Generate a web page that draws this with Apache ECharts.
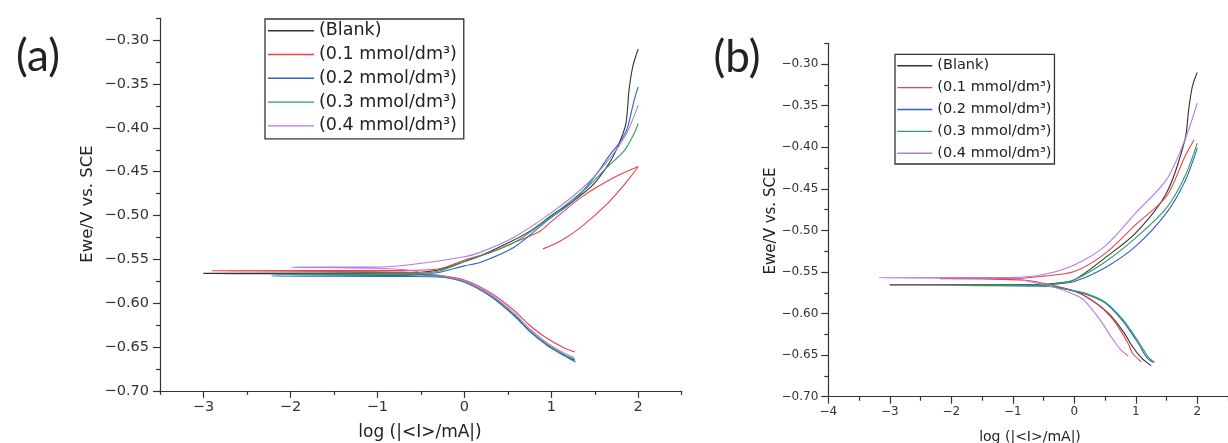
<!DOCTYPE html>
<html>
<head>
<meta charset="utf-8">
<script src="https://cdn.jsdelivr.net/npm/echarts@6/dist/echarts.min.js"></script>
<style>
html,body{margin:0;padding:0;background:#fff;}
#chart{width:1228px;height:443px;}
</style>
</head>
<body>
<div id="chart"></div>
<script>
// ---------- labels / ticks ----------
const seriesNames = ['(Blank)', '(0.1 mmol/dm³)', '(0.2 mmol/dm³)', '(0.3 mmol/dm³)', '(0.4 mmol/dm³)'];
const seriesColors = ['#333333', '#e8424a', '#2d62c8', '#2f9e5e', '#b57be0'];
const xTicksA = [-3, -2, -1, 0, 1, 2];
const xMinorA = [-3.5, -2.5, -1.5, -0.5, 0.5, 1.5, 2.5];
const xTicksB = [-4, -3, -2, -1, 0, 1, 2];
const xMinorB = [-3.5, -2.5, -1.5, -0.5, 0.5, 1.5, 2.5];
const yTicks = [-0.70, -0.65, -0.60, -0.55, -0.50, -0.45, -0.40, -0.35, -0.30];
const yMinor = [-0.675, -0.625, -0.575, -0.525, -0.475, -0.425, -0.375, -0.325, -0.275];
const xTitle = 'log (|<I>/mA|)';
const yTitle = 'Ewe/V vs. SCE';

// ---------- panel (a) data: [log|I|, E] ----------
const blankA = [[1.27,-0.665],[1.15,-0.659],[0.95,-0.647],[0.76,-0.632],[0.57,-0.613],[0.30,-0.591],[0.0,-0.575],[-0.3,-0.569],[-0.6,-0.567],
  [-3.0,-0.566],[-0.6,-0.565],
  [-0.3,-0.562],[0.0,-0.5525],[0.18,-0.546],[0.49,-0.532],[0.76,-0.5175],[1.03,-0.498],[1.26,-0.483],[1.49,-0.464],[1.68,-0.438],[1.76,-0.4225],[1.856,-0.396],[1.895,-0.356],[1.94,-0.329],[2.0,-0.31]];
const c01A = [[1.27,-0.6555],[1.15,-0.651],[0.95,-0.640],[0.76,-0.626],[0.57,-0.608],[0.30,-0.588],[0.0,-0.5735],[-0.3,-0.568],[-0.7,-0.5645],
  [-2.9,-0.563],[-0.7,-0.5625],
  [-0.3,-0.561],[0.0,-0.551],[0.30,-0.542],[0.567,-0.531],[0.875,-0.5175],[1.0,-0.507],[1.34,-0.4795],[1.72,-0.4567],[2.0,-0.444],
  [1.875,-0.4605],[1.64,-0.487],[1.335,-0.5137],[1.106,-0.529],[0.905,-0.538]];
const c02A = [[1.28,-0.667],[1.15,-0.660],[0.95,-0.648],[0.76,-0.633],[0.57,-0.614],[0.30,-0.592],[0.0,-0.576],[-0.3,-0.570],[-0.6,-0.5695],
  [-2.22,-0.569],[-0.6,-0.568],
  [-0.3,-0.565],[0.0,-0.5574],[0.18,-0.5536],[0.567,-0.5365],[0.95,-0.506],[1.26,-0.483],[1.49,-0.4567],[1.68,-0.43],[1.798,-0.415],[1.875,-0.40],[1.952,-0.369],[2.0,-0.3533]];
const c03A = [[1.27,-0.664],[1.15,-0.659],[0.95,-0.647],[0.76,-0.632],[0.57,-0.613],[0.30,-0.591],[0.0,-0.5755],[-0.3,-0.569],[-0.6,-0.5675],
  [-2.19,-0.567],[-0.6,-0.566],
  [-0.3,-0.5635],[0.0,-0.5525],[0.567,-0.531],[1.03,-0.4985],[1.41,-0.468],[1.64,-0.445],[1.84,-0.426],[1.95,-0.407],[2.0,-0.395]];
const c04A = [[1.26,-0.662],[1.15,-0.657],[0.95,-0.645],[0.76,-0.630],[0.57,-0.611],[0.30,-0.590],[0.0,-0.5745],[-0.3,-0.568],[-0.8,-0.561],
  [-1.99,-0.559],[-0.97,-0.5586],
  [-0.586,-0.5555],[0.0,-0.547],[0.18,-0.542],[0.567,-0.525],[1.03,-0.4947],[1.41,-0.464],[1.68,-0.434],[1.84,-0.411],[1.93,-0.392],[2.0,-0.374]];

// ---------- panel (b) data ----------
const blankB = [[1.25,-0.6626],[1.1,-0.654],[0.95,-0.640],[0.8,-0.622],[0.6,-0.603],[0.4,-0.590],[0.2,-0.580],[0.0,-0.573],[-0.3,-0.568],[-0.6,-0.566],
  [-3.0,-0.5655],[-0.6,-0.565],
  [-0.3,-0.5635],[0.0,-0.5595],[0.5,-0.533],[1.0,-0.503],[1.5,-0.455],[1.8,-0.391],[1.86,-0.355],[1.92,-0.327],[2.0,-0.31]];
const c01B = [[1.09,-0.658],[0.95,-0.648],[0.877,-0.636],[0.635,-0.6077],[0.4,-0.590],[0.2,-0.580],[0.0,-0.573],[-0.3,-0.567],[-0.8,-0.560],
  [-2.18,-0.558],[-1.0,-0.558],
  [-0.5,-0.555],[0.0,-0.5495],[0.5,-0.528],[1.0,-0.493],[1.5,-0.459],[1.8,-0.411],[1.95,-0.391]];
const c02B = [[1.29,-0.659],[1.18,-0.653],[1.05,-0.637],[0.79,-0.609],[0.5,-0.587],[0.2,-0.577],[0.0,-0.573],[-0.3,-0.568],[-0.6,-0.5665],
  [-1.2,-0.566],[-0.6,-0.5655],
  [-0.3,-0.5645],[0.0,-0.5615],[0.5,-0.545],[1.0,-0.519],[1.5,-0.479],[1.8,-0.441],[2.0,-0.401]];
const c03B = [[1.305,-0.6586],[1.2,-0.652],[1.06,-0.6357],[0.796,-0.6077],[0.5,-0.586],[0.2,-0.576],[0.0,-0.5725],[-0.3,-0.568],[-0.6,-0.567],
  [-1.78,-0.5663],[-0.6,-0.566],
  [-0.3,-0.5645],[0.0,-0.5595],[0.5,-0.538],[1.0,-0.509],[1.5,-0.473],[1.8,-0.435],[2.0,-0.395]];
const c04B = [[0.877,-0.651],[0.75,-0.643],[0.6,-0.628],[0.42,-0.6077],[0.153,-0.5836],[0.0,-0.577],[-0.3,-0.569],[-0.7,-0.562],[-1.0,-0.5575],
  [-3.17,-0.557],[-1.0,-0.5565],
  [-0.5,-0.553],[0.0,-0.5415],[0.5,-0.519],[1.0,-0.479],[1.5,-0.439],[1.8,-0.391],[2.0,-0.347]];

const dataA = [blankA, c01A, c02A, c03A, c04A];
const dataB = [blankB, c01B, c02B, c03B, c04B];

// ---------- chart ----------
const AX = '#333';
const FONT = 'DejaVu Sans';
const minus = s => s.replace('-', '\u2212');
const fmtY = v => minus(Number(v).toFixed(2));
const fmtX = v => minus(String(Math.round(v)));

function mainX(grid, min, max, ticks, fs, margin) {
  return {type:'value', gridIndex:grid, min, max, position:'bottom',
    axisLine:{show:true, onZero:false, lineStyle:{color:AX, width:1.2}},
    axisTick:{show:true, length:7, customValues:ticks, lineStyle:{color:AX, width:1.2}},
    axisLabel:{show:true, customValues:ticks, formatter:fmtX, fontFamily:FONT, fontSize:fs, color:'#333', margin},
    splitLine:{show:false}};
}
function minorX(grid, min, max, ticks) {
  return {type:'value', gridIndex:grid, min, max, position:'bottom',
    axisLine:{show:false, onZero:false}, axisLabel:{show:false}, splitLine:{show:false},
    axisTick:{show:true, length:4, customValues:ticks, lineStyle:{color:AX, width:1.2}}};
}
function mainY(grid, fs, margin) {
  return {type:'value', gridIndex:grid, min:-0.70, max:-0.275, position:'left',
    axisLine:{show:true, onZero:false, lineStyle:{color:AX, width:1.2}},
    axisTick:{show:true, length:7, customValues:yTicks, lineStyle:{color:AX, width:1.2}},
    axisLabel:{show:true, customValues:yTicks, formatter:fmtY, fontFamily:FONT, fontSize:fs, color:'#333', margin},
    splitLine:{show:false}};
}
function minorY(grid) {
  return {type:'value', gridIndex:grid, min:-0.70, max:-0.275, position:'left',
    axisLine:{show:false, onZero:false}, axisLabel:{show:false}, splitLine:{show:false},
    axisTick:{show:true, length:4, customValues:yMinor, lineStyle:{color:AX, width:1.2}}};
}

const series = [];
seriesNames.forEach((n, i) => {
  series.push({name:n, type:'line', xAxisIndex:0, yAxisIndex:0, data:dataA[i], symbol:'none', smooth:0.3,
    lineStyle:{width:1.1, color:seriesColors[i]}, itemStyle:{color:seriesColors[i]}, z:2+i});
  series.push({name:n, type:'line', xAxisIndex:2, yAxisIndex:2, data:dataB[i], symbol:'none', smooth:0.3,
    lineStyle:{width:1.1, color:seriesColors[i]}, itemStyle:{color:seriesColors[i]}, z:2+i});
});

function txt(text, x, y, size, family, rot) {
  return {type:'text', x, y, rotation:rot||0, z:100,
    style:{text, x:0, y:0, align:'center', verticalAlign:'middle', font:'normal ' + size + 'px "' + family + '"', fill:'#222'}};
}

const chart = echarts.init(document.getElementById('chart'), null, {renderer:'canvas'});
chart.setOption({
  animation:false,
  backgroundColor:'#fff',
  grid:[
    {left:160, top:18.3, width:521.7, height:372.6},
    {left:828.3, top:43.3, width:404.3, height:353.4}
  ],
  xAxis:[
    mainX(0, -3.5, 2.5, xTicksA, 14.5, 9),
    minorX(0, -3.5, 2.5, xMinorA),
    mainX(1, -4, 2.5, xTicksB, 12, 9),
    minorX(1, -4, 2.5, xMinorB)
  ],
  yAxis:[
    mainY(0, 14.5, 11),
    minorY(0),
    mainY(1, 12, 10),
    minorY(1)
  ],
  legend:[
    {left:265, top:19, orient:'vertical', data:seriesNames, icon:'rect', itemWidth:46, itemHeight:1.4, itemGap:3.8,
      padding:[1.7, 7, 3, 3], borderColor:'#333', borderWidth:1.3, backgroundColor:'#fff', selectedMode:false,
      textStyle:{fontFamily:FONT, fontSize:17.5, color:'#222', lineHeight:20}},
    {left:895, top:54.3, orient:'vertical', data:seriesNames, icon:'rect', itemWidth:35, itemHeight:1.4, itemGap:3.9,
      padding:[2.4, 3, 1.7, 2.3], borderColor:'#333', borderWidth:1.3, backgroundColor:'#fff', selectedMode:false,
      textStyle:{fontFamily:FONT, fontSize:14.5, color:'#222', lineHeight:18}}
  ],
  graphic:[
    txt('(a)', 38, 57, 44, 'Lato'),
    txt('(b)', 737, 58, 44, 'Lato'),
    txt(xTitle, 420, 433, 17, FONT),
    txt(yTitle, 88, 204, 16.5, FONT, Math.PI/2),
    txt(xTitle, 1030, 437, 14, FONT),
    txt(yTitle, 771, 221, 15, FONT, Math.PI/2)
  ],
  series
});
</script>
</body>
</html>
